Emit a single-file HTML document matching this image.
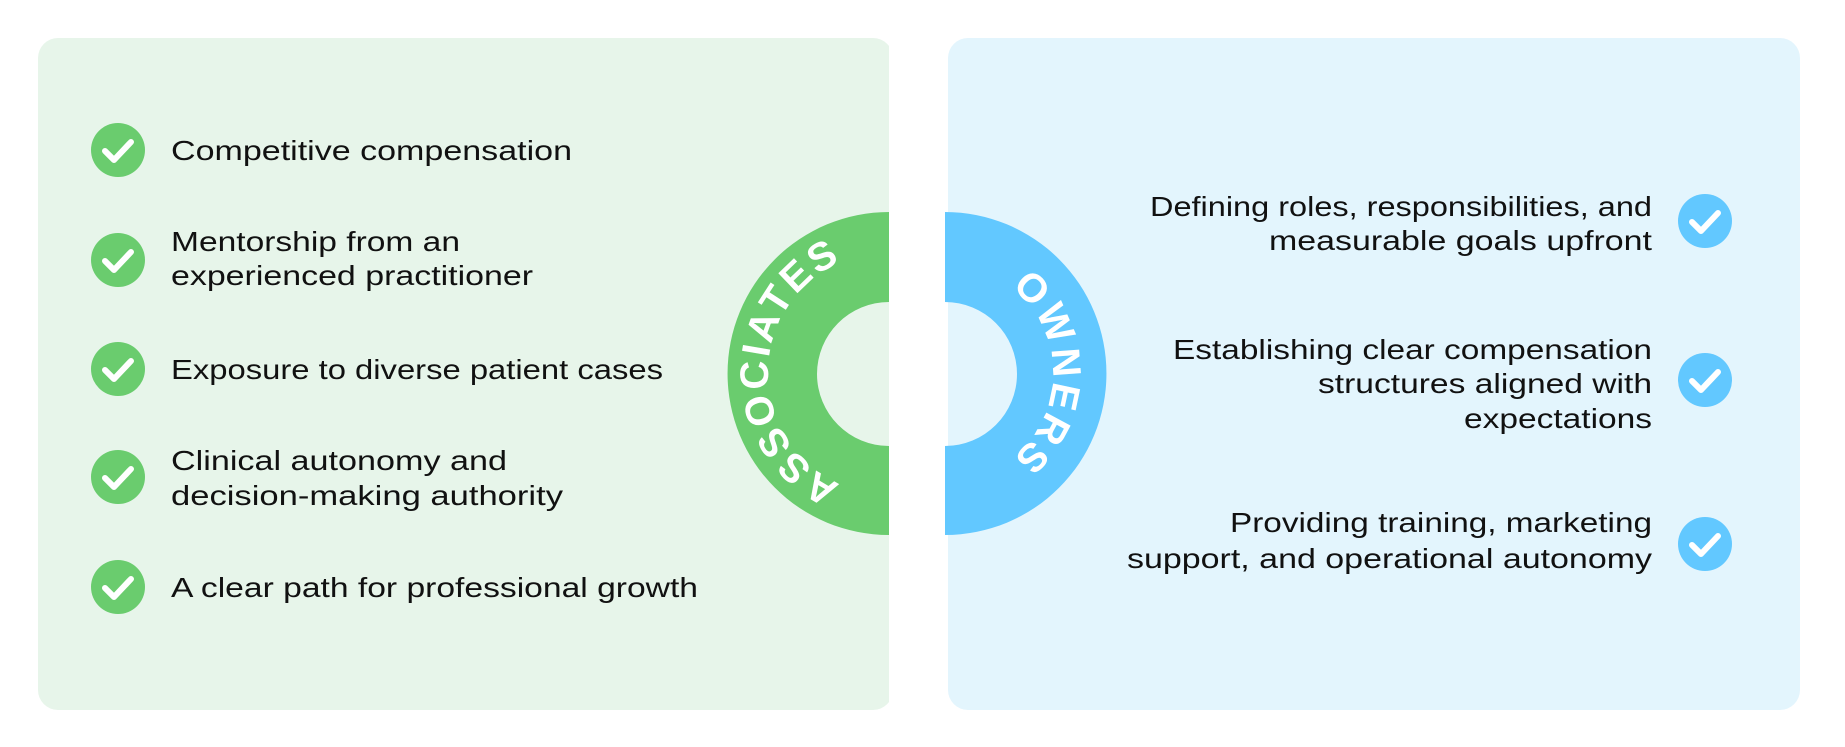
<!DOCTYPE html>
<html><head><meta charset="utf-8"><style>
html,body{margin:0;padding:0;background:#fff;}
svg{display:block;}
text{font-family:"Liberation Sans",sans-serif;}
</style></head><body>
<svg width="1845" height="747" viewBox="0 0 1845 747" xmlns="http://www.w3.org/2000/svg">
<defs>
<g id="chk"><path d="M-13,1 L-4,10 L13,-8" fill="none" stroke="#fff" stroke-width="6" stroke-linecap="round" stroke-linejoin="round"/></g>
<path id="arcL" d="M889,494 A121,121 0 0 1 889,252"/>
<path id="arcR" d="M945,265 A108,108 0 0 1 945,481"/>
</defs>
<rect x="38" y="38" width="855" height="672" rx="20" fill="#E7F5EA"/>
<rect x="948" y="38" width="852" height="672" rx="20" fill="#E3F5FD"/>
<rect x="889" y="0" width="59" height="747" fill="#fff"/>
<path d="M889,212 A161.5,161.5 0 0 0 889,535 L889,446 A72,72 0 0 1 889,302 Z" fill="#6ACC6E"/>
<path d="M945,212 A161.5,161.5 0 0 1 945,535 L945,446 A72,72 0 0 0 945,302 Z" fill="#62C8FF"/>
<text font-size="40" font-weight="bold" fill="#fff" textLength="280" lengthAdjust="spacing"><textPath href="#arcL" startOffset="50%" text-anchor="middle">ASSOCIATES</textPath></text>
<text font-size="40" font-weight="bold" fill="#fff" letter-spacing="3"><textPath href="#arcR" startOffset="50%" text-anchor="middle">OWNERS</textPath></text>
<g fill="#6ACC6E">
<circle cx="118" cy="150" r="27"/><circle cx="118" cy="260" r="27"/><circle cx="118" cy="369" r="27"/><circle cx="118" cy="477" r="27"/><circle cx="118" cy="587" r="27"/>
</g>
<use href="#chk" x="118" y="150"/><use href="#chk" x="118" y="260"/><use href="#chk" x="118" y="369"/><use href="#chk" x="118" y="477"/><use href="#chk" x="118" y="587"/>
<g fill="#62C8FF">
<circle cx="1705" cy="221" r="27"/><circle cx="1705" cy="380" r="27"/><circle cx="1705" cy="544" r="27"/>
</g>
<use href="#chk" x="1705" y="221"/><use href="#chk" x="1705" y="380"/><use href="#chk" x="1705" y="544"/>
<g font-size="28" fill="#111">
<text x="171" y="160" textLength="401" lengthAdjust="spacingAndGlyphs">Competitive compensation</text>
<text x="171" y="251" textLength="289" lengthAdjust="spacingAndGlyphs">Mentorship from an</text>
<text x="171" y="285" textLength="362" lengthAdjust="spacingAndGlyphs">experienced practitioner</text>
<text x="171" y="379" textLength="492" lengthAdjust="spacingAndGlyphs">Exposure to diverse patient cases</text>
<text x="171" y="470" textLength="336" lengthAdjust="spacingAndGlyphs">Clinical autonomy and</text>
<text x="171" y="505" textLength="392" lengthAdjust="spacingAndGlyphs">decision-making authority</text>
<text x="171" y="597" textLength="527" lengthAdjust="spacingAndGlyphs">A clear path for professional growth</text>
<text x="1150" y="216" textLength="502" lengthAdjust="spacingAndGlyphs">Defining roles, responsibilities, and</text>
<text x="1269" y="250" textLength="383" lengthAdjust="spacingAndGlyphs">measurable goals upfront</text>
<text x="1173" y="359" textLength="479" lengthAdjust="spacingAndGlyphs">Establishing clear compensation</text>
<text x="1318" y="393" textLength="334" lengthAdjust="spacingAndGlyphs">structures aligned with</text>
<text x="1464" y="428" textLength="188" lengthAdjust="spacingAndGlyphs">expectations</text>
<text x="1230" y="532" textLength="422" lengthAdjust="spacingAndGlyphs">Providing training, marketing</text>
<text x="1127" y="568" textLength="525" lengthAdjust="spacingAndGlyphs">support, and operational autonomy</text>
</g>
</svg>
</body></html>
